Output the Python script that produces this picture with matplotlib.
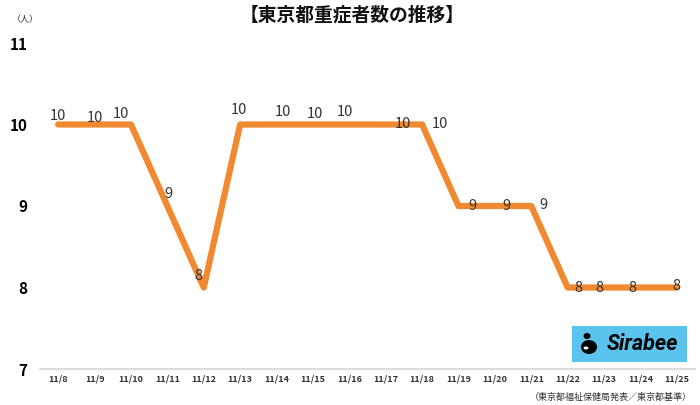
import matplotlib
matplotlib.use("Agg")
import matplotlib.pyplot as plt
from matplotlib.patches import Rectangle, Ellipse

plt.rcParams['font.family'] = ['Noto Sans CJK JP', 'DejaVu Sans']

# data
dates = ['11/8', '11/9', '11/10', '11/11', '11/12', '11/13', '11/14', '11/15', '11/16',
         '11/17', '11/18', '11/19', '11/20', '11/21', '11/22', '11/23', '11/24', '11/25']
severe = [10, 10, 10, 9, 8, 10, 10, 10, 10, 10, 10, 9, 9, 9, 8, 8, 8, 8]
y_ticks = [7, 8, 9, 10, 11]

# label offsets (pixels) as they sit in the original
label_off = [(0, 8), (0, 7), (-10, 11), (1, 12), (-5, 12), (-1, 15), (6, 12), (2, 11), (-4, 12),
             (17, 0), (18, 0), (14, 0), (12, 0), (12, 1), (11, 0), (-5, 0), (-8, 0), (0, 2)]

line_color = '#F0892F'

fig = plt.figure(figsize=(7, 4.05), dpi=100)
ax = fig.add_axes([40 / 700, 36 / 405, 655 / 700, 326 / 405])

x = list(range(len(dates)))
ax.plot(x, severe, color=line_color, lw=4.5, solid_joinstyle='round',
        solid_capstyle='round', zorder=2)

for xi, v, (dx, dy) in zip(x, severe, label_off):
    ax.annotate(str(v), (xi, v), xytext=(dx, dy), textcoords='offset pixels',
                ha='center', va='center', fontsize=10.5, color='#333333', zorder=3)

ax.set_xlim(-0.5, len(dates) - 0.5)
ax.set_ylim(7, 11)
ax.set_yticks(y_ticks)
ax.set_yticklabels([str(t) for t in y_ticks], fontsize=11, fontweight='bold')
ax.set_xticks(x)
ax.set_xticklabels(dates, fontsize=6.5, fontweight='bold', color='#333333')
ax.tick_params(axis='y', length=0, pad=9)
ax.tick_params(axis='x', length=0, pad=4)
for s in ['top', 'right', 'left']:
    ax.spines[s].set_visible(False)
ax.spines['bottom'].set_color('#dddddd')
ax.spines['bottom'].set_linewidth(1.5)

fig.text(352 / 700, 1 - 15 / 405, '【東京都重症者数の推移】', ha='center', va='center',
         fontsize=13.5, fontweight='bold', color='#111111')
fig.text(25 / 700, 1 - 20 / 405, '（人）', ha='center', va='center', fontsize=6.5, color='#333333')
fig.text(692 / 700, 1 - 397 / 405, '（東京都福祉保健局発表／東京都基準）', ha='right', va='center',
         fontsize=6.5, color='#333333')

# Sirabee logo box
fig.patches.append(Rectangle((572 / 700, 1 - 362 / 405), 115 / 700, 36 / 405,
                             transform=fig.transFigure, facecolor='#5BC4EE', edgecolor='none'))
fig.patches.append(Ellipse((589 / 700, 1 - 347 / 405), 16 / 700, 14 / 405,
                           transform=fig.transFigure, facecolor='black', edgecolor='none'))
fig.patches.append(Ellipse((587 / 700, 1 - 336 / 405), 7 / 700, 6 / 405,
                           transform=fig.transFigure, facecolor='black', edgecolor='none'))
fig.patches.append(Ellipse((586 / 700, 1 - 348 / 405), 5 / 700, 3 / 405,
                           transform=fig.transFigure, facecolor='white', edgecolor='none'))
fig.text(642 / 700, 1 - 344 / 405, 'Sirabee', ha='center', va='center', fontsize=15.5,
         fontweight='bold', style='italic', color='black', family='Roboto')

fig.savefig('out.png', dpi=100)
